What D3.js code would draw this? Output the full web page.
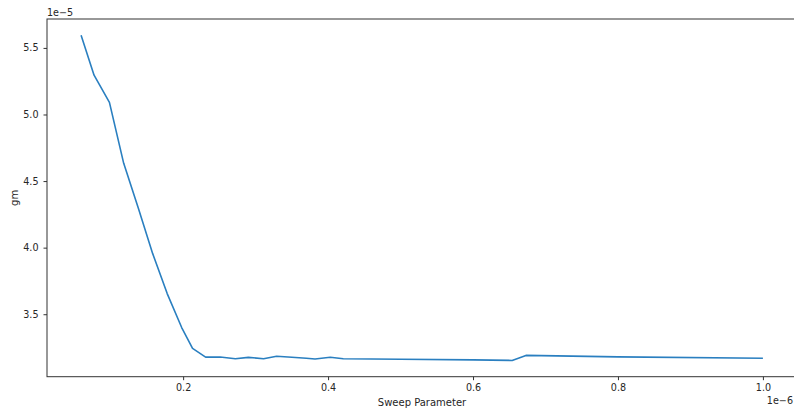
<!DOCTYPE html>
<html>
<head>
<meta charset="utf-8">
<script src="https://cdn.jsdelivr.net/npm/d3@7"></script>
<style>
  html, body { margin: 0; padding: 0; background: #fff; }
  svg { display: block; }
  text { font-family: "DejaVu Sans", sans-serif; fill: #262626; }
</style>
</head>
<body>
<svg id="chart" width="794" height="408"></svg>
<script>
// Data (sweep in units of 1e-6, gm in units of 1e-5)
const sweepScale = 1e-6;
const gmScale = 1e-5;
const sweep = [0.0592, 0.0771, 0.0983, 0.118, 0.138, 0.158, 0.178, 0.198, 0.213, 0.231,
               0.251, 0.272, 0.290, 0.311, 0.329, 0.350, 0.370, 0.382, 0.403, 0.421,
               0.500, 0.600, 0.654, 0.673, 0.800, 1.000];
const gm = [5.595, 5.295, 5.091, 4.633, 4.299, 3.955, 3.655, 3.400, 3.243, 3.178,
            3.179, 3.166, 3.176, 3.166, 3.185, 3.177, 3.170, 3.164, 3.177, 3.166,
            3.162, 3.157, 3.153, 3.191, 3.180, 3.170];
const xTicks = [0.2, 0.4, 0.6, 0.8, 1.0];
const yTicks = [3.5, 4.0, 4.5, 5.0, 5.5];
const xLabel = "Sweep Parameter";
const yLabel = "gm";
const xOffsetText = "1e\u22126";
const yOffsetText = "1e\u22125";

const points = sweep.map((s, i) => ({x: s * sweepScale, y: gm[i] * gmScale}));

const L = 47, R = 797, T = 19, B = 376.7;
function padded(ext) { const d = ext[1] - ext[0]; return [ext[0] - 0.05 * d, ext[1] + 0.05 * d]; }
const x = d3.scaleLinear().domain(padded(d3.extent(points, d => d.x))).range([L, R]);
const y = d3.scaleLinear().domain(padded(d3.extent(points, d => d.y))).range([B, T]);

const svg = d3.select("#chart");
const fs = 9.6;
const lfs = 10;

// line
const line = d3.line().x(d => x(d.x)).y(d => y(d.y));
svg.append("path").datum(points)
  .attr("d", line).attr("fill", "none")
  .attr("stroke", "#2a7fc0").attr("stroke-width", 1.6)
  .attr("stroke-linejoin", "round").attr("stroke-linecap", "butt");

// axes
const xAxis = d3.axisBottom(x).tickValues(xTicks.map(v => v * sweepScale))
  .tickFormat(v => (v / sweepScale).toFixed(1)).tickSizeInner(3.5).tickSizeOuter(0).tickPadding(3.5);
const yAxis = d3.axisLeft(y).tickValues(yTicks.map(v => v * gmScale))
  .tickFormat(v => (v / gmScale).toFixed(1)).tickSizeInner(3.5).tickSizeOuter(0).tickPadding(5);

const gx = svg.append("g").attr("transform", `translate(0,${B})`).call(xAxis);
const gy = svg.append("g").attr("transform", `translate(${L},0)`).call(yAxis);
[gx, gy].forEach(g => {
  g.select(".domain").remove();
  g.selectAll(".tick line").attr("stroke", "#333").attr("stroke-width", 1);
  g.selectAll(".tick text").attr("font-size", fs).attr("fill", "#262626")
    .style("font-family", "'DejaVu Sans', sans-serif");
});

// spines
svg.append("rect").attr("x", L).attr("y", T).attr("width", R - L).attr("height", B - T)
  .attr("fill", "none").attr("stroke", "#333").attr("stroke-width", 1);

// offset texts
svg.append("text").attr("x", L).attr("y", 15.5).attr("font-size", fs).text(yOffsetText);
svg.append("text").attr("x", 793).attr("y", 403.5).attr("font-size", fs)
  .attr("text-anchor", "end").text(xOffsetText);

// axis labels
svg.append("text").attr("x", (L + R) / 2).attr("y", 406).attr("font-size", lfs)
  .attr("text-anchor", "middle").text(xLabel);
svg.append("text").attr("transform", `translate(18,${(T + B) / 2}) rotate(-90)`)
  .attr("font-size", lfs).attr("text-anchor", "middle").text(yLabel);
</script>
</body>
</html>
